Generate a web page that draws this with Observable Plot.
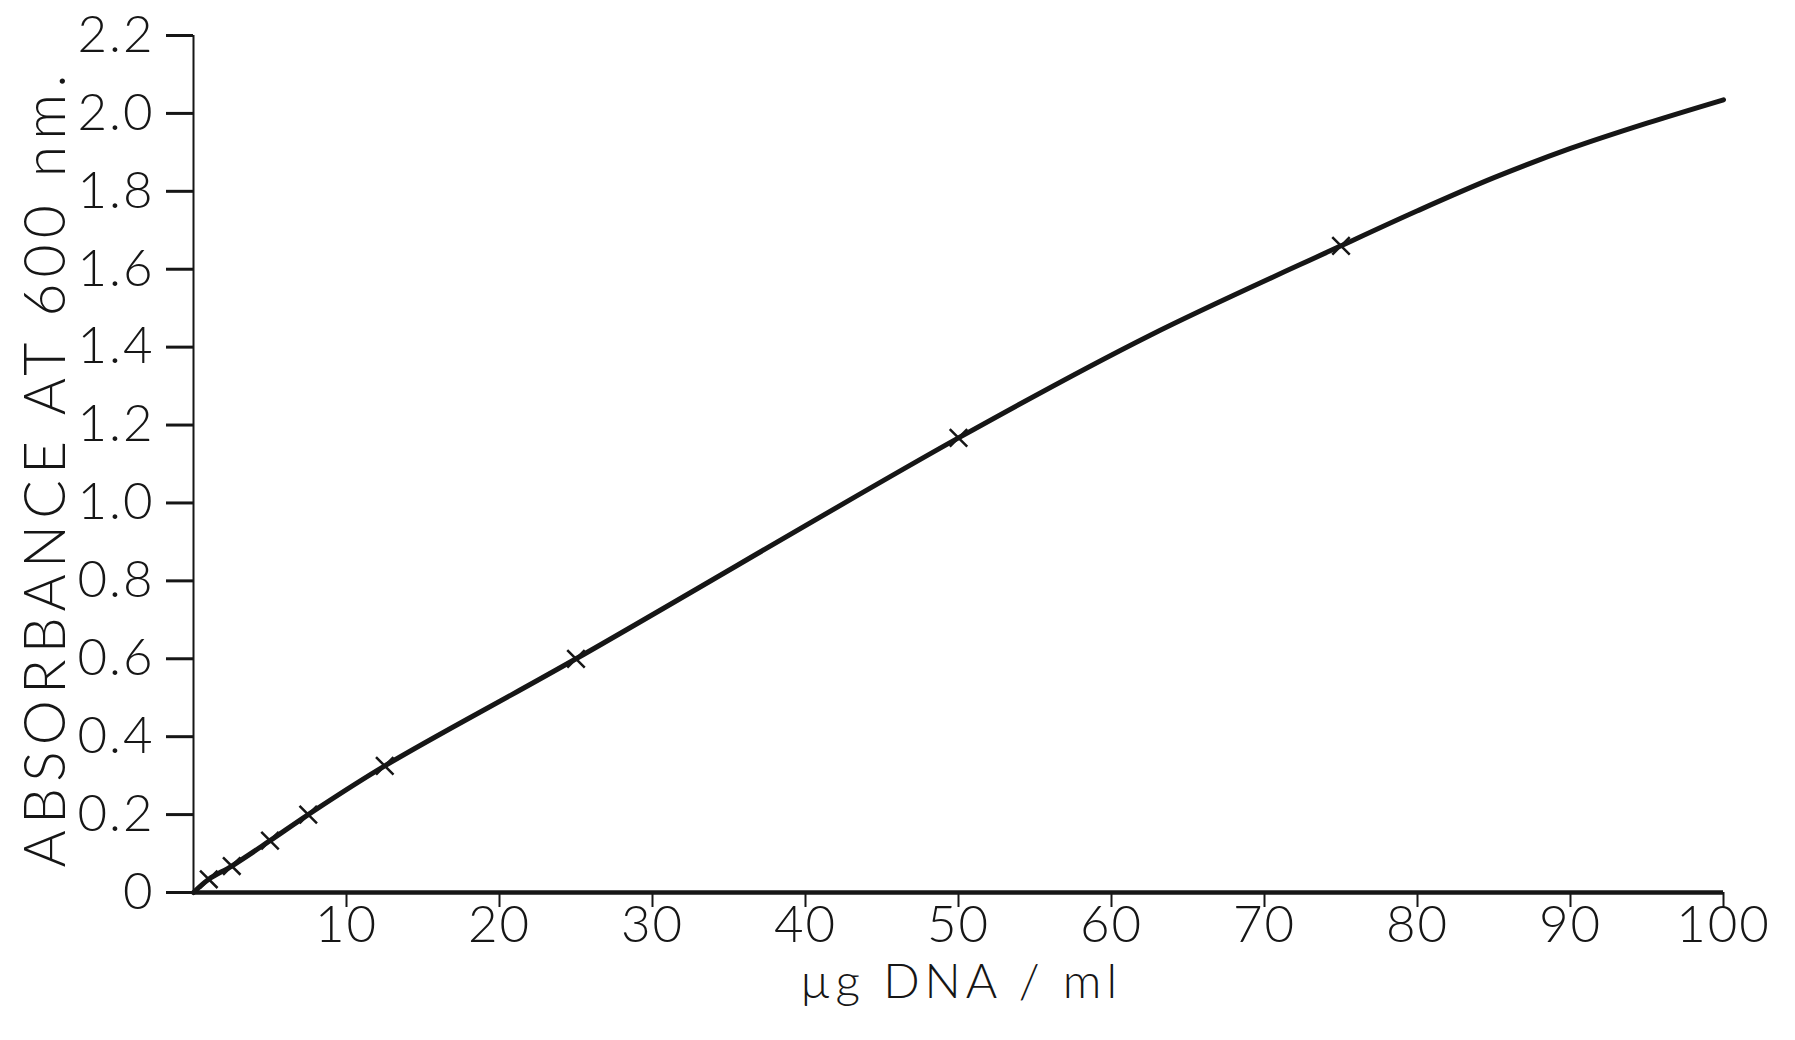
<!DOCTYPE html>
<html>
<head>
<meta charset="utf-8">
<script src="https://cdn.jsdelivr.net/npm/d3@7"></script>
<script src="https://cdn.jsdelivr.net/npm/@observablehq/plot@0.6"></script>
<style>
  html, body { margin: 0; padding: 0; background: #fff; }
  #chart svg { display: block; }
  #chart svg g[aria-label="x-axis tick label"] text,
  #chart svg g[aria-label="y-axis tick label"] text { letter-spacing: 2px; }
</style>
</head>
<body>
<div id="chart"></div>
<script>
// Measured points (x markers)
const pointX = [1, 2.5, 5, 7.5, 12.5, 25, 50, 75];
const pointY = [0.034, 0.068, 0.133, 0.2, 0.325, 0.60, 1.167, 1.66];

// Drawn curve
const curveX = [0, 1, 2.5, 5, 7.5, 12.5, 25, 50, 62.5, 75, 80, 85, 90, 95, 100];
const curveY = [0, 0.034, 0.068, 0.133, 0.2, 0.325, 0.60, 1.167, 1.43, 1.66, 1.75, 1.835, 1.91, 1.975, 2.035];

// Axis ticks and labels
const xTicks = [10, 20, 30, 40, 50, 60, 70, 80, 90, 100];
const xTickLabels = ["10", "20", "30", "40", "50", "60", "70", "80", "90", "100"];
const yTicks = [0, 0.2, 0.4, 0.6, 0.8, 1.0, 1.2, 1.4, 1.6, 1.8, 2.0, 2.2];
const yTickLabels = ["0", "0.2", "0.4", "0.6", "0.8", "1.0", "1.2", "1.4", "1.6", "1.8", "2.0", "2.2"];

const xTitle = "µg DNA / ml";
const yTitle = "ABSORBANCE AT 600 nm.";

const points = pointX.map((x, i) => ({x, y: pointY[i]}));
const curve = curveX.map((x, i) => ({x, y: curveY[i]}));

const ink = "#161616";

const svg = Plot.plot({
  width: 1795,
  height: 1040,
  marginLeft: 193,
  marginRight: 72,
  marginTop: 35,
  marginBottom: 148,
  x: {domain: [0, 100]},
  y: {domain: [0, 2.2]},
  style: {fontFamily: "Lato, 'Open Sans', sans-serif", fontSize: "50px", color: ink, background: "#fff", fontWeight: 300},
  marks: [
    Plot.ruleX([0], {stroke: ink, strokeWidth: 2}),
    Plot.ruleY([0], {stroke: ink, strokeWidth: 4.5}),
    Plot.axisY({ticks: yTicks, tickFormat: (d) => yTickLabels[yTicks.indexOf(d)], tickSize: 27, tickPadding: 12, strokeWidth: 3, stroke: ink, label: null, fontSize: 51}),
    Plot.axisX({ticks: xTicks, tickFormat: (d) => xTickLabels[xTicks.indexOf(d)], tickSize: 15, tickPadding: -2, strokeWidth: 2, stroke: ink, label: null, fontSize: 51}),
    Plot.line(curve, {x: "x", y: "y", curve: "catmull-rom", stroke: ink, strokeWidth: 5, strokeLinecap: "round"}),
    Plot.dot(points, {x: "x", y: "y", symbol: "times", r: 8, stroke: ink, strokeWidth: 2.5}),
    Plot.text([yTitle], {frameAnchor: "left", textAnchor: "middle", lineAnchor: "middle", dx: -147, dy: 7, rotate: -90, fontSize: 57, fill: ink}),
    Plot.text([xTitle], {frameAnchor: "bottom", textAnchor: "middle", lineAnchor: "middle", dy: 90, fontSize: 48, fill: ink})
  ]
});

document.getElementById("chart").appendChild(svg);

d3.select(svg).selectAll("text").each(function() {
  const t = this.textContent;
  if (t === yTitle) d3.select(this).attr("textLength", 793).attr("lengthAdjust", "spacing");
  if (t === xTitle) d3.select(this).attr("textLength", 317).attr("lengthAdjust", "spacing");
});
</script>
</body>
</html>
